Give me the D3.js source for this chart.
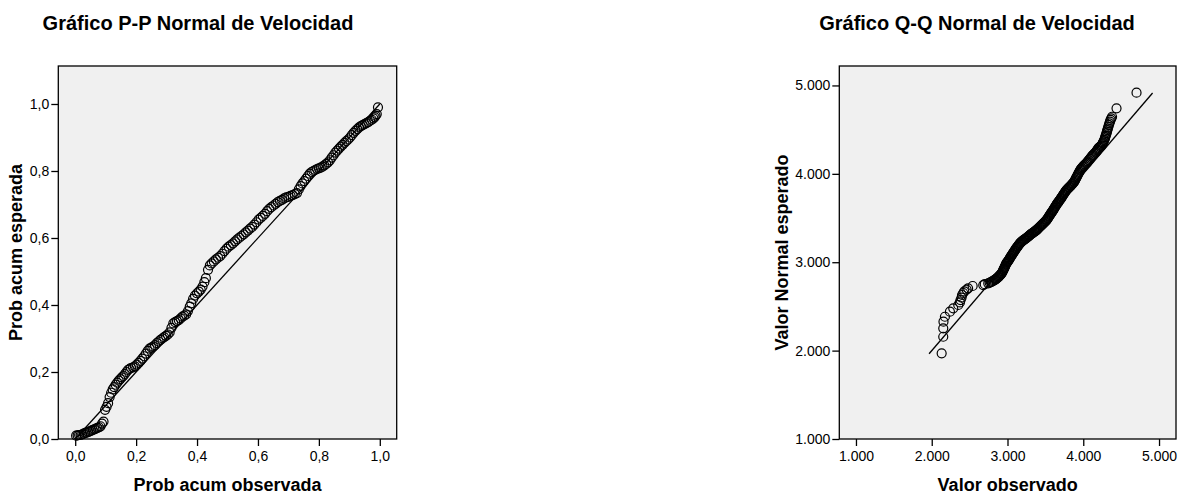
<!DOCTYPE html>
<html>
<head>
<meta charset="utf-8">
<script src="https://cdn.jsdelivr.net/npm/d3@7"></script>
<style>
  html, body { margin: 0; padding: 0; background: #ffffff; }
  svg { display: block; }
  text { font-family: "Liberation Sans", Arial, sans-serif; fill: #000; }
</style>
</head>
<body>
<svg id="chart" width="1181" height="496"></svg>
<script>
// ---------- DATA ----------
const ppTitle = "Gráfico P-P Normal de Velocidad";
const qqTitle = "Gráfico Q-Q Normal de Velocidad";
const ppXLabel = "Prob acum observada";
const ppYLabel = "Prob acum esperada";
const qqXLabel = "Valor observado";
const qqYLabel = "Valor Normal esperado";

const ppTicks = [0, 0.2, 0.4, 0.6, 0.8, 1.0];
const qqTicks = [1000, 2000, 3000, 4000, 5000];

const ppLine = [0, 1];
const qqLine = [1965, 4915];

const ppObserved = [0.003,0.008,0.013,0.018,0.023,0.028,0.033,0.038,0.043,0.048,0.053,0.058,0.063,0.068,0.073,0.078,0.083,0.088,0.093,0.098,
0.103,0.108,0.113,0.118,0.123,0.128,0.133,0.138,0.143,0.148,0.153,0.158,0.163,0.168,0.173,0.178,0.183,0.190,0.196,0.202,
0.208,0.214,0.220,0.226,0.232,0.238,0.244,0.250,0.256,0.262,0.268,0.274,0.280,0.286,0.292,0.298,0.304,0.310,0.316,0.322,
0.328,0.334,0.340,0.346,0.352,0.358,0.364,0.370,0.376,0.381,0.387,0.393,0.400,0.406,0.412,0.418,0.424,0.429,0.436,0.442,
0.448,0.455,0.462,0.469,0.476,0.483,0.490,0.497,0.504,0.511,0.518,0.525,0.532,0.539,0.546,0.553,0.560,0.567,0.574,0.581,
0.588,0.595,0.602,0.609,0.616,0.623,0.630,0.637,0.644,0.651,0.658,0.665,0.672,0.679,0.686,0.693,0.700,0.707,0.714,0.721,
0.728,0.734,0.740,0.746,0.752,0.758,0.764,0.770,0.776,0.782,0.788,0.794,0.800,0.806,0.812,0.818,0.824,0.830,0.836,0.842,
0.848,0.854,0.860,0.866,0.872,0.878,0.884,0.890,0.896,0.902,0.908,0.914,0.920,0.926,0.932,0.938,0.944,0.950,0.956,0.962,
0.968,0.974,0.979,0.983,0.986,0.990,0.994];
const ppExpected = [0.010,0.011,0.012,0.012,0.014,0.016,0.018,0.019,0.021,0.023,0.025,0.027,0.029,0.031,0.033,0.035,0.038,0.046,0.052,0.087,
0.096,0.107,0.125,0.138,0.148,0.155,0.162,0.168,0.174,0.179,0.184,0.188,0.194,0.200,0.206,0.209,0.212,0.214,0.217,0.222,
0.227,0.233,0.240,0.247,0.255,0.263,0.270,0.273,0.276,0.280,0.286,0.291,0.296,0.300,0.304,0.308,0.312,0.318,0.332,0.345,
0.349,0.352,0.355,0.360,0.365,0.368,0.372,0.382,0.395,0.405,0.418,0.428,0.435,0.440,0.446,0.455,0.468,0.480,0.505,0.518,
0.524,0.530,0.536,0.541,0.546,0.553,0.561,0.568,0.574,0.579,0.584,0.590,0.596,0.601,0.606,0.611,0.617,0.622,0.628,0.633,
0.640,0.647,0.655,0.660,0.666,0.672,0.680,0.687,0.692,0.697,0.702,0.707,0.711,0.714,0.718,0.721,0.723,0.726,0.728,0.731,
0.734,0.745,0.755,0.763,0.770,0.777,0.785,0.792,0.797,0.800,0.803,0.806,0.808,0.810,0.813,0.817,0.821,0.826,0.832,0.840,
0.847,0.855,0.861,0.867,0.873,0.878,0.884,0.889,0.894,0.900,0.907,0.914,0.920,0.925,0.930,0.934,0.937,0.940,0.943,0.946,
0.950,0.953,0.957,0.961,0.965,0.970,0.990];

const qqObserved = [2131,2152,2152,2155,2174,2240,2284,2350,2372,2380,2394,2400,2416,2430,2460,2480,2540,2680,2700,
2746,2765,2780,2795,2810,2822,2834,2842,2850,2860,2870,2878,2885,2892,2900,2908,2915,2922,2930,2937,
2943,2949,2955,2960,2965,2972,2978,2984,2990,2998,3005,3012,3018,3024,3030,3038,3045,3052,3060,3068,
3075,3082,3090,3098,3105,3112,3120,3128,3135,3142,3150,3157,3164,3172,3180,3190,3200,3210,3220,3230,
3240,3250,3260,3270,3280,3288,3296,3306,3315,3325,3335,3345,3355,3362,3370,3377,3384,3392,3400,3410,
3420,3430,3440,3450,3460,3470,3480,3490,3500,3508,3516,3523,3530,3538,3545,3552,3560,3568,3575,3582,
3590,3597,3603,3609,3615,3622,3630,3638,3645,3652,3660,3668,3675,3682,3690,3698,3705,3712,3720,3728,
3735,3742,3750,3758,3765,3772,3780,3790,3800,3810,3820,3830,3840,3850,3860,3870,3880,3888,3895,3902,
3910,3918,3925,3932,3940,3948,3955,3962,3970,3980,3990,4000,4010,4025,4040,4050,4060,4073,4087,4098,
4110,4120,4130,4145,4160,4170,4180,4188,4197,4208,4220,4230,4241,4248,4255,4262,4270,4278,4285,4290,
4295,4301,4307,4312,4318,4324,4330,4337,4345,4352,4360,4370,4380,4439,4703];
const qqExpected = [1969,2157,2252,2327,2383,2440,2478,2516,2545,2572,2600,2629,2652,2670,2690,2705,2731,2742,2752,
2761,2768,2775,2781,2788,2794,2800,2806,2812,2818,2825,2831,2838,2845,2852,2859,2866,2875,2885,2897,
2910,2920,2930,2940,2950,2962,2975,2985,2995,3002,3010,3019,3028,3036,3044,3055,3065,3075,3085,3095,
3105,3115,3125,3135,3145,3155,3165,3172,3180,3189,3198,3206,3214,3221,3228,3235,3242,3249,3255,3262,
3268,3274,3280,3288,3295,3302,3308,3314,3320,3326,3332,3339,3345,3350,3355,3360,3364,3371,3378,3387,
3395,3404,3412,3420,3428,3437,3445,3454,3462,3470,3477,3486,3495,3505,3515,3525,3535,3545,3555,3564,
3573,3582,3590,3599,3608,3618,3628,3639,3650,3659,3668,3677,3686,3695,3704,3713,3722,3732,3742,3752,
3762,3772,3782,3791,3800,3809,3817,3826,3835,3844,3852,3861,3870,3880,3890,3900,3910,3922,3935,3948,
3960,3972,3985,3998,4010,4022,4035,4045,4055,4065,4075,4085,4095,4106,4118,4129,4140,4155,4170,4182,
4195,4205,4215,4228,4240,4251,4262,4275,4288,4296,4305,4312,4320,4332,4345,4357,4370,4385,4400,4415,
4430,4445,4460,4477,4495,4512,4530,4550,4571,4590,4610,4628,4646,4741,4918];

// ---------- DRAWING ----------
const locale = d3.formatLocale({decimal: ",", thousands: ".", grouping: [3], currency: ["", "€"]});
const fmtPP = locale.format(".1f");
const fmtQQ = locale.format(",.0f");

const svg = d3.select("#chart");
svg.append("rect").attr("width", 1181).attr("height", 496).attr("fill", "#fff");

function panel(cfg) {
  const g = svg.append("g");
  const x = d3.scaleLinear().domain(cfg.xDomain).range([cfg.left, cfg.right]);
  const y = d3.scaleLinear().domain(cfg.yDomain).range([cfg.bottom, cfg.top]);

  g.append("rect")
    .attr("x", cfg.left).attr("y", cfg.top)
    .attr("width", cfg.right - cfg.left).attr("height", cfg.bottom - cfg.top)
    .attr("fill", "#f0f0f0").attr("stroke", "none");

  const xAxis = g.append("g").attr("transform", `translate(0,${cfg.bottom})`)
    .call(d3.axisBottom(x).tickValues(cfg.ticksX).tickFormat(cfg.fmt).tickSize(7).tickPadding(5));
  const yAxis = g.append("g").attr("transform", `translate(${cfg.left},0)`)
    .call(d3.axisLeft(y).tickValues(cfg.ticksY).tickFormat(cfg.fmt).tickSize(7).tickPadding(2));
  [xAxis, yAxis].forEach(a => {
    a.select(".domain").remove();
    a.selectAll(".tick line").attr("stroke", "#000").attr("stroke-width", 1.3);
    a.selectAll(".tick text").attr("font-size", 14).attr("font-family", "Liberation Sans, Arial, sans-serif").attr("fill", "#000");
  });

  // reference line
  g.append("line")
    .attr("x1", x(cfg.line[0])).attr("y1", y(cfg.line[0]))
    .attr("x2", x(cfg.line[1])).attr("y2", y(cfg.line[1]))
    .attr("stroke", "#000").attr("stroke-width", 1.3);

  // points
  const pts = cfg.xs.map((v, i) => [v, cfg.ys[i]]);
  g.append("g").selectAll("circle").data(pts).join("circle")
    .attr("cx", d => x(d[0])).attr("cy", d => y(d[1])).attr("r", 4.5)
    .attr("fill", "none").attr("stroke", "#000").attr("stroke-width", 1.2);

  // frame
  g.append("rect")
    .attr("x", cfg.left).attr("y", cfg.top)
    .attr("width", cfg.right - cfg.left).attr("height", cfg.bottom - cfg.top)
    .attr("fill", "none").attr("stroke", "#000").attr("stroke-width", 1.3);

  // texts
  g.append("text").attr("x", cfg.titleX).attr("y", 30).attr("text-anchor", "middle")
    .attr("font-size", 20).attr("font-weight", "bold").text(cfg.title);
  g.append("text").attr("x", (cfg.left + cfg.right) / 2).attr("y", 491).attr("text-anchor", "middle")
    .attr("font-size", 18).attr("font-weight", "bold").text(cfg.xLabel);
  g.append("text")
    .attr("transform", `translate(${cfg.yLabelX},${(cfg.top + cfg.bottom) / 2}) rotate(-90)`)
    .attr("text-anchor", "middle")
    .attr("font-size", 18).attr("font-weight", "bold").text(cfg.yLabel);
}

panel({
  left: 58.3, right: 396.7, top: 66, bottom: 439,
  xDomain: [-0.0555, 1.0555], yDomain: [0, 1.1134],
  ticksX: ppTicks, ticksY: ppTicks, fmt: fmtPP,
  line: ppLine, xs: ppObserved, ys: ppExpected,
  title: ppTitle, titleX: 198, xLabel: ppXLabel, yLabel: ppYLabel, yLabelX: 22
});

panel({
  left: 839.3, right: 1176, top: 66, bottom: 439,
  xDomain: [780, 5224], yDomain: [1000, 5220],
  ticksX: qqTicks, ticksY: qqTicks, fmt: fmtQQ,
  line: qqLine, xs: qqObserved, ys: qqExpected,
  title: qqTitle, titleX: 977, xLabel: qqXLabel, yLabel: qqYLabel, yLabelX: 788
});
</script>
</body>
</html>
